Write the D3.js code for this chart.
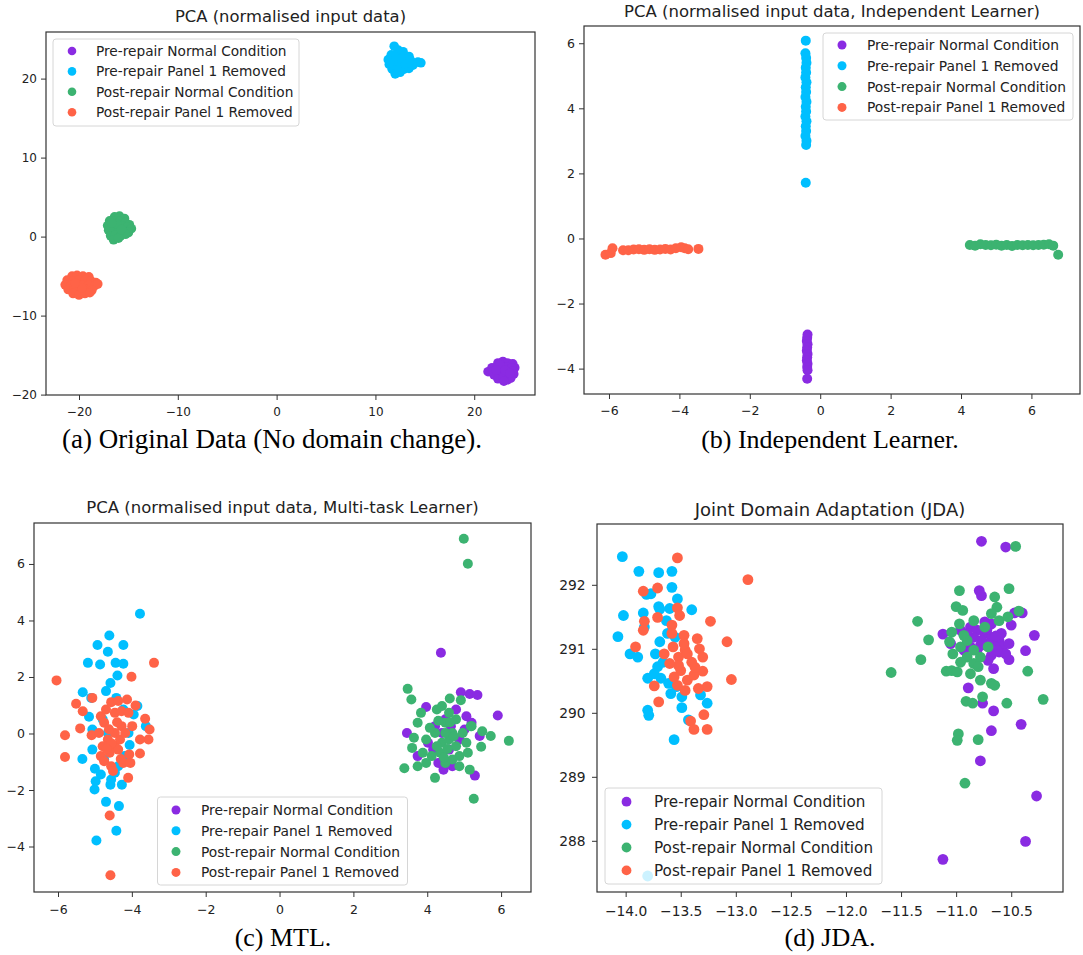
<!DOCTYPE html>
<html><head><meta charset="utf-8">
<script src="https://cdn.jsdelivr.net/npm/d3@7"></script>
<style>body{margin:0;background:#fff;} svg{display:block;}</style>
</head><body><svg id="chart" width="1083" height="955"></svg>
<script>
// ---------- shared labels ----------
const seriesNames = ["Pre-repair Normal Condition", "Pre-repair Panel 1 Removed", "Post-repair Normal Condition", "Post-repair Panel 1 Removed"];
const seriesColors = ["#8a2be2", "#00bfff", "#3cb371", "#ff6347"];
const titles = ["PCA (normalised input data)", "PCA (normalised input data, Independent Learner)", "PCA (normalised input data, Multi-task Learner)", "Joint Domain Adaptation (JDA)"];
const captions = ["(a) Original Data (No domain change).", "(b) Independent Learner.", "(c) MTL.", "(d) JDA."];

// ---------- panel (a) ----------
const aXTicks = [-20, -10, 0, 10, 20];
const aYTicks = [-20, -10, 0, 10, 20];
const aXDomain = [-23.34, 26.15];
const aYDomain = [-20.05, 25.9];
const aPreNormal = [[22.4,-16.0],[22.9,-15.8],[23.4,-16.0],[23.9,-16.1],[24.1,-16.6],[21.8,-16.6],[22.3,-16.5],[22.8,-16.4],[23.3,-16.5],[23.8,-16.6],[21.4,-17.1],[21.9,-17.1],[22.4,-17.0],[22.9,-17.0],[23.4,-17.1],[23.9,-17.0],[22.0,-17.5],[22.5,-17.6],[23.0,-17.5],[23.5,-17.6],[24.0,-17.4],[22.4,-18.0],[22.9,-17.9],[23.4,-18.1],[23.7,-17.9],[22.6,-16.2],[23.1,-16.9],[22.2,-16.9],[23.6,-17.3],[23.0,-18.3]];
const aPrePanel = [[11.9,24.1],[12.3,23.6],[12.8,23.4],[11.6,23.0],[12.2,23.0],[12.9,22.9],[13.4,22.8],[11.3,22.4],[11.9,22.3],[12.5,22.3],[13.1,22.2],[13.7,22.1],[14.3,22.1],[14.6,22.0],[11.4,21.8],[12.0,21.7],[12.6,21.7],[13.2,21.6],[13.8,21.7],[11.7,21.2],[12.3,21.1],[12.9,21.2],[13.4,21.3],[12.0,20.6],[12.5,20.8],[12.2,22.7],[13.0,21.9],[11.5,22.0],[12.7,22.6],[13.5,22.4]];
const aPostNormal = [[-16.4,2.5],[-15.9,2.6],[-15.4,2.3],[-16.9,2.0],[-16.4,1.9],[-15.9,1.9],[-15.3,1.8],[-14.9,1.5],[-17.1,1.4],[-16.6,1.3],[-16.1,1.3],[-15.6,1.3],[-15.1,1.2],[-14.7,1.0],[-17.0,0.8],[-16.5,0.7],[-16.0,0.7],[-15.5,0.6],[-15.0,0.5],[-16.8,0.1],[-16.3,0.2],[-15.8,0.1],[-15.3,0.3],[-16.5,-0.4],[-16.0,-0.2],[-16.2,1.6],[-15.7,0.9],[-16.7,1.7]];
const aPostPanel = [[-20.7,-5.0],[-20.2,-4.9],[-19.6,-5.0],[-19.0,-5.1],[-21.2,-5.5],[-20.6,-5.6],[-20.0,-5.5],[-19.4,-5.5],[-18.8,-5.6],[-18.3,-5.8],[-21.4,-6.1],[-20.8,-6.1],[-20.2,-6.2],[-19.6,-6.1],[-19.0,-6.1],[-18.4,-6.2],[-18.1,-6.0],[-21.1,-6.7],[-20.5,-6.7],[-19.9,-6.8],[-19.3,-6.7],[-18.7,-6.8],[-20.6,-7.2],[-20.0,-7.4],[-19.4,-7.2],[-18.9,-7.1],[-19.7,-6.5],[-20.4,-5.9]];

// ---------- panel (b) ----------
const bXTicks = [-6, -4, -2, 0, 2, 4, 6];
const bYTicks = [-4, -2, 0, 2, 4, 6];
const bXDomain = [-6.71, 7.38];
const bYDomain = [-4.78, 6.53];
const bPreNormal = [[-0.36,-2.95],[-0.37,-3.05],[-0.38,-3.15],[-0.36,-3.25],[-0.37,-3.35],[-0.38,-3.45],[-0.36,-3.55],[-0.37,-3.65],[-0.38,-3.75],[-0.36,-3.85],[-0.37,-3.95],[-0.36,-4.05],[-0.37,-4.31]];
const bPrePanel = [[-0.41,6.08],[-0.42,5.69],[-0.40,5.55],[-0.39,5.40],[-0.41,5.25],[-0.40,5.10],[-0.42,4.95],[-0.39,4.80],[-0.41,4.65],[-0.40,4.50],[-0.42,4.35],[-0.39,4.20],[-0.41,4.05],[-0.40,3.90],[-0.42,3.75],[-0.39,3.60],[-0.41,3.45],[-0.40,3.30],[-0.42,3.15],[-0.39,3.00],[-0.40,2.87],[-0.41,1.71]];
const bPostNormal = [[4.25,-0.20],[4.40,-0.22],[4.55,-0.18],[4.70,-0.20],[4.85,-0.21],[5.00,-0.19],[5.15,-0.22],[5.30,-0.20],[5.45,-0.23],[5.60,-0.20],[5.75,-0.21],[5.90,-0.20],[6.05,-0.21],[6.20,-0.20],[6.35,-0.19],[6.50,-0.18],[6.62,-0.22],[6.76,-0.50]];
const bPostPanel = [[-6.10,-0.50],[-5.95,-0.45],[-5.90,-0.30],[-5.60,-0.36],[-5.45,-0.36],[-5.30,-0.34],[-5.15,-0.33],[-5.00,-0.35],[-4.85,-0.33],[-4.70,-0.35],[-4.55,-0.34],[-4.40,-0.32],[-4.25,-0.34],[-4.10,-0.30],[-3.95,-0.27],[-3.85,-0.30],[-3.75,-0.33],[-3.46,-0.32]];

// ---------- panel (c) ----------
const cXTicks = [-6, -4, -2, 0, 2, 4, 6];
const cYTicks = [-4, -2, 0, 2, 4, 6];
const cXDomain = [-6.65, 6.81];
const cYDomain = [-5.61, 7.45];
const cPreNormal = [[4.37,2.86],[4.91,1.46],[5.15,1.40],[5.36,1.36],[5.91,0.64],[3.45,0.02],[3.97,0.94],[5.29,-1.49],[4.44,-1.28],[4.68,-1.16],[5.06,0.61],[5.20,0.38],[3.74,-0.80],[4.02,-0.33],[4.21,0.26],[4.87,-0.21],[4.59,-0.57],[4.30,-1.04],[4.78,0.85],[5.01,0.14],[4.49,0.50],[4.16,-0.57],[5.42,-0.09],[4.40,0.02],[4.64,0.26]];
const cPrePanel = [[-3.78,4.24],[-4.61,3.47],[-4.93,3.13],[-4.23,3.13],[-4.65,2.89],[-5.19,2.50],[-4.86,2.44],[-4.44,2.50],[-4.23,2.47],[-4.39,2.05],[-4.58,1.79],[-4.70,1.50],[-5.33,1.46],[-5.10,1.26],[-5.16,0.59],[-5.07,0.14],[-5.34,-0.90],[-5.07,-0.57],[-5.00,-1.25],[-4.98,-1.69],[-5.01,-1.98],[-4.70,-2.42],[-4.35,-2.57],[-4.42,-3.44],[-4.96,-3.79],[-4.27,-1.81],[-4.58,-1.81],[-4.84,-1.45],[-4.46,-1.39],[-4.06,-0.41],[-3.85,0.97],[-3.95,0.67],[-3.62,0.26],[-4.23,0.85],[-4.42,1.26],[-4.75,-0.92],[-4.65,0.02],[-4.56,-1.63],[-4.19,-0.80],[-4.79,0.50],[-4.09,0.02],[-4.37,-1.16]];
const cPostNormal = [[4.99,6.89],[5.10,6.01],[3.47,1.58],[3.57,1.20],[3.38,-1.23],[4.21,-1.57],[5.26,-2.31],[6.21,-0.26],[5.72,-0.09],[5.49,0.08],[5.46,-0.47],[5.18,0.26],[4.91,1.18],[4.61,1.24],[4.26,0.85],[3.83,0.73],[3.74,0.38],[3.64,-0.15],[3.59,-0.51],[3.74,-1.16],[3.97,-1.04],[3.88,-0.68],[4.12,-0.80],[4.21,0.02],[4.40,-0.33],[4.49,0.38],[4.59,0.73],[4.68,0.02],[4.78,-0.45],[4.87,-0.80],[4.96,0.02],[5.10,-0.68],[5.15,-1.28],[4.49,-1.04],[4.68,-0.92],[4.35,-0.68],[4.07,0.20],[3.97,-0.21],[4.78,0.50],[4.40,0.97],[5.20,0.26],[5.06,-0.33],[4.59,-0.21],[4.26,-0.45],[4.87,-1.16],[4.49,0.02],[4.55,-0.55],[4.72,-0.10],[4.30,0.45],[4.62,0.40],[4.45,-0.85]];
const cPostPanel = [[-6.04,1.88],[-3.40,2.50],[-4.01,2.01],[-5.07,1.26],[-5.51,1.05],[-5.33,0.79],[-5.40,0.18],[-5.81,-0.06],[-5.81,-0.83],[-5.09,-0.06],[-4.13,1.20],[-3.90,0.99],[-3.64,0.52],[-3.52,0.14],[-3.55,-0.21],[-3.78,-0.21],[-3.78,-0.71],[-4.07,-0.74],[-4.10,-1.57],[-4.60,-2.90],[-4.58,-5.02],[-4.56,1.11],[-4.37,1.15],[-4.84,0.61],[-4.75,0.38],[-4.46,0.73],[-4.28,0.79],[-4.09,0.73],[-4.28,0.26],[-4.46,0.02],[-4.65,-0.21],[-4.79,-0.45],[-4.84,-0.80],[-4.60,-0.68],[-4.46,-0.45],[-4.32,-0.21],[-4.18,0.02],[-3.99,0.26],[-4.23,-1.04],[-4.56,-1.16],[-4.51,-1.33],[-4.75,-0.98],[-4.37,-0.57],[-4.89,0.02],[-4.70,0.85],[-4.04,-1.04],[-4.55,-0.35],[-4.40,0.40],[-4.62,0.15],[-4.30,-0.90],[-4.68,-0.55]];

// ---------- panel (d) ----------
const dXTicks = [-14.0, -13.5, -13.0, -12.5, -12.0, -11.5, -11.0, -10.5];
const dYTicks = [288, 289, 290, 291, 292];
const dXDomain = [-14.26, -10.03];
const dYDomain = [287.2, 292.95];
const dPreNormal = [[-10.77,292.68],[-10.55,292.59],[-10.79,291.91],[-10.77,291.83],[-10.47,291.56],[-10.40,291.56],[-10.50,291.37],[-11.12,291.23],[-10.29,291.21],[-10.37,290.97],[-10.52,290.83],[-11.05,291.08],[-10.89,290.39],[-10.76,290.15],[-10.66,290.03],[-10.68,289.72],[-10.41,289.82],[-10.78,289.25],[-10.27,288.70],[-10.37,287.99],[-11.12,287.71],[-10.66,290.69],[-10.87,291.34],[-10.81,291.29],[-10.74,291.24],[-10.68,291.18],[-10.61,291.13],[-10.58,291.03],[-10.65,291.03],[-10.71,291.08],[-10.77,291.13],[-10.84,291.18],[-10.90,291.24],[-10.96,291.29],[-10.68,291.39],[-10.74,291.42],[-10.61,290.95],[-10.68,290.90],[-10.55,290.92],[-10.71,290.82],[-10.81,290.98],[-10.59,291.24],[-10.52,291.08],[-10.93,290.98],[-10.87,291.03],[-10.72,291.30],[-10.64,291.20],[-10.78,291.05],[-10.63,290.98]];
const dPrePanel = [[-14.03,292.44],[-13.88,292.21],[-13.70,292.19],[-13.58,292.21],[-13.58,291.96],[-13.81,291.85],[-13.77,291.86],[-14.02,291.52],[-13.84,291.56],[-13.70,291.66],[-13.69,291.62],[-13.60,291.63],[-13.53,291.78],[-13.40,291.61],[-14.07,291.19],[-13.96,290.92],[-13.89,290.87],[-13.83,291.34],[-13.73,290.92],[-13.69,291.11],[-13.71,290.72],[-13.80,290.54],[-13.68,290.54],[-13.80,290.04],[-13.79,289.96],[-13.56,289.58],[-13.59,290.30],[-13.49,290.25],[-13.49,290.08],[-13.43,289.89],[-13.32,290.28],[-13.26,290.15],[-13.63,291.44],[-13.62,291.24],[-13.55,291.18],[-13.66,290.79],[-13.61,290.46],[-13.54,290.41],[-13.74,290.61],[-13.80,287.45]];
const dPostNormal = [[-10.46,292.60],[-10.97,291.91],[-10.52,291.94],[-10.65,291.81],[-10.63,291.65],[-11.00,291.66],[-10.94,291.60],[-11.35,291.43],[-10.43,291.59],[-11.25,291.14],[-11.32,290.83],[-11.59,290.63],[-11.09,290.65],[-11.04,290.66],[-10.99,290.64],[-10.35,290.65],[-10.21,290.21],[-10.54,290.15],[-10.76,290.25],[-10.91,290.18],[-10.85,290.15],[-10.68,290.46],[-10.65,290.43],[-10.78,290.51],[-10.98,289.67],[-10.99,289.57],[-10.80,289.58],[-10.92,288.90],[-11.04,291.26],[-11.06,291.11],[-11.03,290.92],[-10.96,291.03],[-10.90,291.13],[-10.84,290.98],[-10.90,290.87],[-10.96,290.79],[-10.84,290.77],[-10.78,290.87],[-10.87,290.61],[-10.80,290.72],[-10.74,291.34],[-10.68,291.55],[-10.61,291.44],[-10.53,291.50],[-10.71,291.03],[-10.97,291.39],[-10.84,291.44],[-10.93,291.21]];
const dPostPanel = [[-13.53,292.42],[-12.89,292.08],[-13.84,291.90],[-13.71,291.95],[-13.53,291.64],[-13.51,291.52],[-13.83,291.43],[-13.84,291.29],[-13.71,291.49],[-13.23,291.43],[-13.08,291.11],[-13.91,291.03],[-13.58,291.37],[-13.58,291.24],[-13.47,291.21],[-13.35,291.16],[-13.33,291.00],[-13.30,290.87],[-13.30,290.65],[-13.04,290.52],[-13.26,290.41],[-13.34,290.38],[-13.74,290.42],[-13.70,290.17],[-13.41,289.87],[-13.38,289.74],[-13.26,289.74],[-13.29,289.97],[-13.65,290.92],[-13.57,291.03],[-13.52,290.87],[-13.46,290.98],[-13.40,290.79],[-13.50,290.66],[-13.56,290.56],[-13.44,290.51],[-13.38,290.59],[-13.46,290.35],[-13.52,290.74],[-13.60,290.77],[-13.44,290.92],[-13.37,290.71],[-13.47,291.08],[-13.53,290.43]];

// ---------- drawing ----------
const svg = d3.select("#chart");
svg.append("rect").attr("width", 1083).attr("height", 955).attr("fill", "#fff");
const FONT = "DejaVu Sans, Verdana, sans-serif";
const SERIF = "Liberation Serif, Times New Roman, serif";

const panels = [
  {frame:{l:46,r:535,t:32,b:395}, xd:aXDomain, yd:aYDomain, xt:aXTicks, yt:aYTicks, fmt:d3.format("d"),
   series:[aPreNormal,aPrePanel,aPostNormal,aPostPanel], title:titles[0], titleY:22, cap:captions[0], capX:272, capY:448, capFs:27,
   leg:{l:53,t:39,w:246,h:87,mx:72,tx:96,off:12,dy:20.4}, r:4.8, lr:4.3, fs:12, lfs:13.7, tfs:16.4, pad:7.5, ypad:4},
  {frame:{l:584,r:1080,t:26,b:394}, xd:bXDomain, yd:bYDomain, xt:bXTicks, yt:bYTicks, fmt:d3.format("d"),
   series:[bPreNormal,bPrePanel,bPostNormal,bPostPanel], title:titles[1], titleY:17, cap:captions[1], capX:830, capY:448, capFs:26,
   leg:{l:823,t:33,w:250,h:87,mx:842,tx:867,off:12,dy:20.8}, r:5, lr:4.5, fs:12.5, lfs:13.8, tfs:16.5, pad:7.5, ypad:4},
  {frame:{l:34,r:531,t:523,b:892}, xd:cXDomain, yd:cYDomain, xt:cXTicks, yt:cYTicks, fmt:d3.format("d"),
   series:[cPreNormal,cPrePanel,cPostNormal,cPostPanel], title:titles[2], titleY:513, cap:captions[2], capX:283, capY:946, capFs:26,
   leg:{l:157.5,t:797,w:250,h:88,mx:176,tx:201,off:13,dy:20.8}, r:5, lr:4.5, fs:12.5, lfs:13.8, tfs:16.5, pad:8, ypad:4},
  {frame:{l:597,r:1063,t:524,b:892}, xd:dXDomain, yd:dYDomain, xt:dXTicks, yt:dYTicks, fmt:d3.format(".1f"),
   series:[dPreNormal,dPrePanel,dPostNormal,dPostPanel], title:titles[3], titleY:516, cap:captions[3], capX:830, capY:946, capFs:26,
   leg:{l:605,t:788,w:277,h:96,mx:626.5,tx:654,off:13.7,dy:22.9}, r:5.4, lr:4.9, fs:13.8, lfs:15.2, tfs:18, pad:9, ypad:6.5, yfmt:d3.format("d")}
];

panels.forEach(p => {
  const f = p.frame;
  const x = d3.scaleLinear().domain(p.xd).range([f.l, f.r]);
  const y = d3.scaleLinear().domain(p.yd).range([f.b, f.t]);
  const g = svg.append("g");

  // points
  const clipId = "clip" + f.l + "_" + f.t;
  svg.append("clipPath").attr("id", clipId).append("rect")
    .attr("x", f.l).attr("y", f.t).attr("width", f.r - f.l).attr("height", f.b - f.t);
  const pts = g.append("g").attr("clip-path", `url(#${clipId})`);
  p.series.forEach((s, i) => {
    pts.append("g").selectAll("circle").data(s).join("circle")
      .attr("cx", d => x(d[0])).attr("cy", d => y(d[1]))
      .attr("r", p.r).attr("fill", seriesColors[i]);
  });

  // axes
  const xa = g.append("g").attr("transform", `translate(0,${f.b})`)
    .call(d3.axisBottom(x).tickValues(p.xt).tickFormat(p.fmt).tickSize(5).tickPadding(p.pad));
  const ya = g.append("g").attr("transform", `translate(${f.l},0)`)
    .call(d3.axisLeft(y).tickValues(p.yt).tickFormat(p.yfmt || p.fmt).tickSize(5).tickPadding(p.ypad));
  [xa, ya].forEach(a => {
    a.select(".domain").remove();
    a.selectAll(".tick line").attr("stroke", "#333").attr("stroke-width", 1);
    a.selectAll(".tick text").attr("fill", "#222").style("font-family", FONT).style("font-size", p.fs + "px");
  });

  // frame
  g.append("rect").attr("x", f.l).attr("y", f.t).attr("width", f.r - f.l).attr("height", f.b - f.t)
    .attr("fill", "none").attr("stroke", "#333").attr("stroke-width", 1.2);

  // title
  g.append("text").attr("x", (f.l + f.r) / 2).attr("y", p.titleY).attr("text-anchor", "middle")
    .attr("fill", "#222").style("font-family", FONT).style("font-size", p.tfs + "px").text(p.title);

  // legend
  const L = p.leg;
  const lg = g.append("g");
  lg.append("rect").attr("x", L.l).attr("y", L.t).attr("width", L.w).attr("height", L.h)
    .attr("rx", 3).attr("fill", "#fff").attr("fill-opacity", 0.8)
    .attr("stroke", "#d6d6d6").attr("stroke-width", 1);
  seriesNames.forEach((name, i) => {
    const cy = L.t + L.off + i * L.dy;
    lg.append("circle").attr("cx", L.mx).attr("cy", cy).attr("r", p.lr).attr("fill", seriesColors[i]);
    lg.append("text").attr("x", L.tx).attr("y", cy + p.lfs * 0.36).attr("fill", "#222")
      .style("font-family", FONT).style("font-size", p.lfs + "px").text(name);
  });

  // caption
  svg.append("text").attr("x", p.capX).attr("y", p.capY).attr("text-anchor", "middle")
    .attr("fill", "#000").style("font-family", SERIF).style("font-size", p.capFs + "px").text(p.cap);
});
</script></body></html>
